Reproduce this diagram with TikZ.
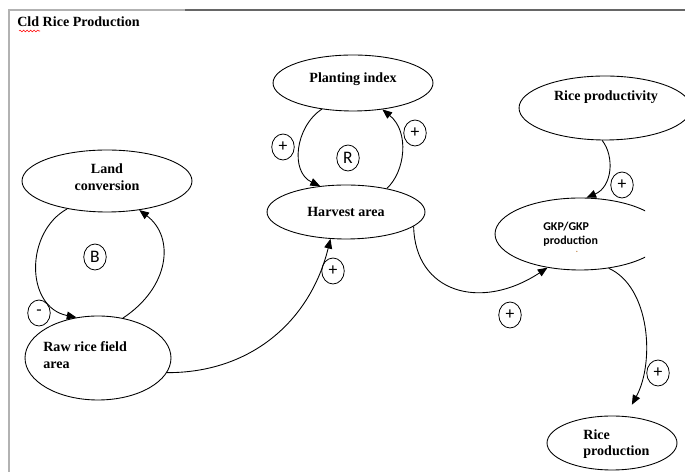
\documentclass[tikz,border=0pt]{standalone}
\usepackage{fontspec}
\setmainfont{Liberation Serif}
\newfontfamily\calfont{Carlito}
\usetikzlibrary{shapes.geometric,arrows.meta,decorations.pathmorphing}

\begin{document}
\begin{tikzpicture}[x=0.02cm,y=0.02cm,
    oval/.style={draw,ellipse,inner sep=0pt,line width=0.5pt},
    lbl/.style={font=\fontsize{8}{9.5}\selectfont\bfseries,inner sep=0pt,align=center},
    sgn/.style={draw,ellipse,inner sep=0pt,minimum width=0.45cm,minimum height=0.52cm,line width=0.45pt,font=\calfont\fontsize{10}{10}\selectfont},
    arr/.style={-{Triangle[length=5.5pt,width=4.5pt]},line width=0.5pt}]
  \useasboundingbox (0,0) rectangle (685,472);
  % frame and title
  \draw[gray!60,line width=0.6pt] (9,0) -- (9,462) -- (185,462);
  \draw[gray!80!black,line width=1pt] (185,462) -- (685,462);
  \node[lbl,anchor=west] (title) at (17,450) {Cld Rice Production};
  \draw[red,line width=0.3pt,decorate,decoration={snake,amplitude=0.5pt,segment length=2pt}] (19,441) -- (40,441);

  % variables
  \node[oval,minimum width=3.4cm,minimum height=1.24cm] (land) at (107,291) {};
  \node[lbl] (landtxt) at (107,295) {Land\\conversion};
  \node[oval,minimum width=2.92cm,minimum height=1.68cm] (raw) at (98,114) {};
  \node[lbl,align=left,anchor=west] (rawtxt) at (43,117) {Raw rice field\\area};
  \node[oval,minimum width=3.2cm,minimum height=1.12cm] (plant) at (353,389) {};
  \node[lbl] (planttxt) at (353,393) {Planting index};
  \node[oval,minimum width=3.16cm,minimum height=1.08cm] (harv) at (346,260) {};
  \node[lbl] (harvtxt) at (346,260) {Harvest area};
  \node[oval,minimum width=3.44cm,minimum height=1.28cm] (prod) at (605,364) {};
  \node[lbl] (prodtxt) at (606,375) {Rice productivity};
  \begin{scope}
    \clip (0,0) rectangle (645,472);
    \node[oval,minimum width=3.4cm,minimum height=1.44cm] (gkp) at (580,238) {};
  \end{scope}
  \node[lbl,align=left,anchor=west,font=\calfont\fontsize{6.8}{8.2}\selectfont\bfseries] (gkptxt) at (543,238) {GKP/GKP\\production};
  \node[inner sep=0pt,font=\calfont\fontsize{6}{6}\selectfont,text=brown] (dot) at (577,220) {.};
  \node[oval,minimum width=2.6cm,minimum height=1.08cm] (out) at (612,29) {};
  \node[lbl,align=left,anchor=west] (outtxt) at (583,28) {Rice\\production};

  % links
  \draw[arr] (land.215) .. controls (25,240) and (25,165) .. (raw.118);
  \draw[arr] (raw.58) .. controls (170,185) and (175,235) .. (land.318);
  \draw[arr] (raw.348) .. controls (250,99) and (310,150) .. (harv.240);
  \draw[arr] (plant.220) .. controls (295,345) and (290,300) .. (harv.135);
  \draw[arr] (harv.30) .. controls (405,300) and (410,340) .. (plant.318);
  \draw[arr] (harv.348) .. controls (415,180) and (480,160) .. (gkp.226);
  \draw[arr] (prod.265) .. controls (615,315) and (612,285) .. (gkp.80);
  \draw[arr,shorten >=0.26cm] (gkp.310) .. controls (650,185) and (655,110) .. (out.63);

  % polarities
  \node[sgn] (b) at (95,215) {B};
  \node[sgn] (s1) at (39,159) {-};
  \node[sgn] (s2) at (333,201) {+};
  \node[sgn] (s3) at (283,325) {+};
  \node[sgn] (r) at (348,314) {R};
  \node[sgn] (s4) at (415,339) {+};
  \node[sgn] (s5) at (510,157) {+};
  \node[sgn] (s6) at (622,287) {+};
  \node[sgn] (s7) at (658,99) {+};
\end{tikzpicture}
\end{document}
